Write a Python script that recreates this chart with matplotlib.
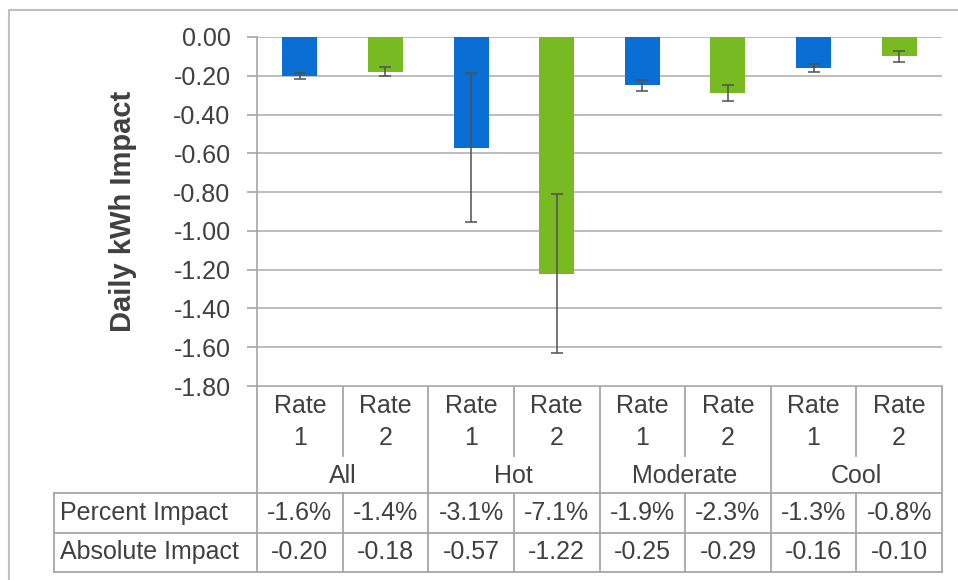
import matplotlib.pyplot as plt
from matplotlib.transforms import blended_transform_factory

plt.rcParams['font.family'] = ['Liberation Sans', 'DejaVu Sans']

# data
groups = ['All', 'Hot', 'Moderate', 'Cool']
rates = ['Rate\n1', 'Rate\n2']
impact = [-0.20, -0.18, -0.57, -1.22, -0.25, -0.29, -0.16, -0.10]
impact_err = [0.016, 0.023, 0.385, 0.41, 0.03, 0.04, 0.02, 0.027]
percent_impact = ['-1.6%', '-1.4%', '-3.1%', '-7.1%', '-1.9%', '-2.3%', '-1.3%', '-0.8%']
absolute_impact = ['-0.20', '-0.18', '-0.57', '-1.22', '-0.25', '-0.29', '-0.16', '-0.10']
row_labels = ['Percent Impact', 'Absolute Impact']
yticks = [0.0, -0.2, -0.4, -0.6, -0.8, -1.0, -1.2, -1.4, -1.6, -1.8]

blue = '#0A6FD4'
green = '#77BA22'
grid = '#BDBDBD'
txt = '#404040'
fs = 18

W, H = 958, 580
fig = plt.figure(figsize=(W / 100, H / 100), dpi=100)

# pixel helper axes (for table + frame)
tax = fig.add_axes([0, 0, 1, 1], zorder=0)
tax.set_xlim(0, W)
tax.set_ylim(H, 0)
tax.axis('off')

left, right, top, bot = 257, 942, 37, 386
ax = fig.add_axes([left / W, 1 - bot / H, (right - left) / W, (bot - top) / H], zorder=2)
ax.patch.set_alpha(0)

n = len(impact)
x = list(range(n))
colors = [blue if i % 2 == 0 else green for i in x]
ax.bar(x, impact, width=0.41, color=colors, zorder=3,
       yerr=impact_err, error_kw=dict(ecolor='#505050', elinewidth=1.1, capsize=4.3, capthick=1.1, zorder=4))

ax.set_xlim(-0.5, n - 0.5)
ax.set_ylim(-1.8, 0)
ax.set_yticks(yticks)
ax.set_yticklabels(['%.2f' % v for v in yticks], fontsize=fs, color=txt)
ax.yaxis.grid(True, color=grid, lw=1.4, zorder=0)
ax.set_axisbelow(True)
ax.tick_params(axis='y', length=7, width=1.2, color='#A6A6A6', pad=12)
ax.set_xticks([])
for s in ['top', 'right', 'bottom']:
    ax.spines[s].set_visible(False)
ax.spines['left'].set_color('#A6A6A6')
ax.spines['left'].set_linewidth(1.2)
ax.set_ylabel('Daily kWh Impact', fontsize=21, fontweight='bold', color=txt, labelpad=26)

# data table below the axis, x in bar data coords, y in pixels
tr = blended_transform_factory(ax.transData, tax.transData)
lc = '#A6A6A6'
lw = 1.3
y_head, y_inner, y_r1, y_r2, y_r3 = 386, 456, 493, 533, 572

tax.plot([left, right], [y_head, y_head], color=lc, lw=lw)
for yy in [y_r1, y_r2, y_r3]:
    tax.plot([54, right], [yy, yy], color=lc, lw=lw)
tax.plot([54, 54], [y_r1, y_r3], color=lc, lw=lw)
for i in range(n + 1):
    xe = i - 0.5
    ytop_line = y_head if i % 2 == 0 else y_r1
    tax.plot([xe, xe], [ytop_line, y_r3], color=lc, lw=lw, transform=tr)
    if i % 2 == 1:
        tax.plot([xe, xe], [y_head, y_inner], color=lc, lw=lw, transform=tr)

for i in x:
    tax.text(i, 422, rates[i % 2], ha='center', va='center', fontsize=fs,
             color=txt, linespacing=1.4, transform=tr)
    tax.text(i, 513, percent_impact[i], ha='center', va='center', fontsize=fs, color=txt, transform=tr)
    tax.text(i, 552, absolute_impact[i], ha='center', va='center', fontsize=fs, color=txt, transform=tr)
for g, name in enumerate(groups):
    tax.text(2 * g + 0.5, 476, name, ha='center', va='center', fontsize=fs, color=txt, transform=tr)
tax.text(60, 513, row_labels[0], ha='left', va='center', fontsize=fs, color=txt)
tax.text(60, 552, row_labels[1], ha='left', va='center', fontsize=fs, color=txt)

# chart border
tax.plot([9, 9, W + 5], [H + 5, 10, 10], color='#BFBFBF', lw=1.5)

fig.savefig('out.png', dpi=100)
